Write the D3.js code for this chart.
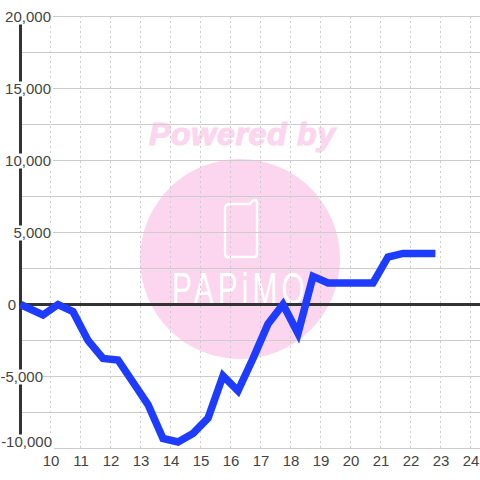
<!DOCTYPE html>
<html><head><meta charset="utf-8"><script src="https://cdn.jsdelivr.net/npm/d3@7"></script>
<style>html,body{margin:0;padding:0;background:#fff}svg{display:block}text{font-family:"Liberation Sans",Arial,sans-serif}</style></head>
<body><svg id="c" width="480" height="480"></svg>
<script>
const hours=[9,9.75,10.25,10.75,11.25,11.75,12.25,12.75,13.25,13.75,14.25,14.75,15.25,15.75,16.25,16.75,17.25,17.75,18.25,18.75,19.25,19.75,20.25,20.75,21.25,21.75,22.25,22.83];
const balance=[0,-730,0,-500,-2500,-3750,-3850,-5400,-6950,-9300,-9550,-8950,-7900,-4950,-6000,-3750,-1350,0,-2000,1950,1500,1500,1500,1500,3300,3550,3550,3550];
const xTicks=[10,11,12,13,14,15,16,17,18,19,20,21,22,23,24];
const yLabelTicks=[20000,15000,10000,5000,0,-5000,-10000];
const yGridTicks=[20000,17500,15000,12500,10000,7500,5000,2500,0,-2500,-5000,-7500,-10000];
const svg=d3.select("#c");
const x=d3.scaleLinear().domain([9,25]).range([20.5,500.5]);
const y=d3.scaleLinear().domain([20000,-10000]).range([16.5,448.5]);
const pink="#fbd6ee";
const wm=svg.append("g");
wm.append("circle").attr("cx",240).attr("cy",259).attr("r",100).attr("fill",pink);
wm.append("text").attr("x",242).attr("y",145).attr("text-anchor","middle").attr("font-size",32).attr("font-weight","bold").attr("font-style","italic").attr("fill",pink).attr("stroke",pink).attr("stroke-width",1.2).attr("textLength",186).text("Powered by");
wm.append("path").attr("d","M231 204H250Q252 200 255 200Q257 200 257 203V254Q257 257 254 257H228Q225 257 225 254V208Q225 204 231 204Z").attr("fill","none").attr("stroke","#fff").attr("stroke-width",2.4);
wm.append("text").attr("transform","translate(172,304) scale(0.68,1)").attr("font-size",44).attr("letter-spacing",6).attr("fill","#fff").text("PAPiMO");
svg.append("g").selectAll("line").data(yGridTicks).join("line")
 .attr("x1",20).attr("x2",480).attr("y1",d=>y(d)).attr("y2",d=>y(d)).attr("stroke","#ccc").attr("stroke-width",1);
svg.append("g").selectAll("line").data(xTicks).join("line")
 .attr("x1",d=>x(d)).attr("x2",d=>x(d)).attr("y1",16).attr("y2",448).attr("stroke","#ccc").attr("stroke-dasharray","2,3");
svg.append("line").attr("x1",20.5).attr("x2",20.5).attr("y1",16).attr("y2",448).attr("stroke","#333").attr("stroke-width",3);
svg.append("line").attr("x1",20).attr("x2",480).attr("y1",y(0)).attr("y2",y(0)).attr("stroke","#333").attr("stroke-width",3);
svg.append("path").datum(hours.map((h,i)=>[h,balance[i]])).attr("fill","none").attr("stroke","#1e3cff").attr("stroke-width",7.5).attr("stroke-linejoin","miter").attr("stroke-miterlimit",3)
 .attr("d",d3.line().x(d=>x(d[0])).y(d=>y(d[1])));
const f=d=>d3.format(",")(d).replace("\u2212","-");
const labelY=d=>d===-10000?y(d)-7:y(d);
const labelEnd=d=>d===0?16:d===-5000?43:d===-10000?52:51;
const yl=svg.append("g").selectAll("g").data(yLabelTicks).join("g");
yl.filter(d=>d!==0).append("rect").attr("x",d=>labelEnd(d)-50).attr("y",d=>labelY(d)-7).attr("width",d=>d===-5000?50:52).attr("height",15).attr("fill","#fff");
yl.append("text").attr("x",labelEnd).attr("y",d=>labelY(d)+5.5).attr("text-anchor","end").attr("font-size",15).attr("fill","#444").text(f);
svg.append("g").selectAll("text").data(xTicks).join("text").attr("x",d=>x(d)+0.5).attr("y",466).attr("text-anchor","middle").attr("font-size",15).attr("fill","#444").text(d=>d);
</script></body></html>
